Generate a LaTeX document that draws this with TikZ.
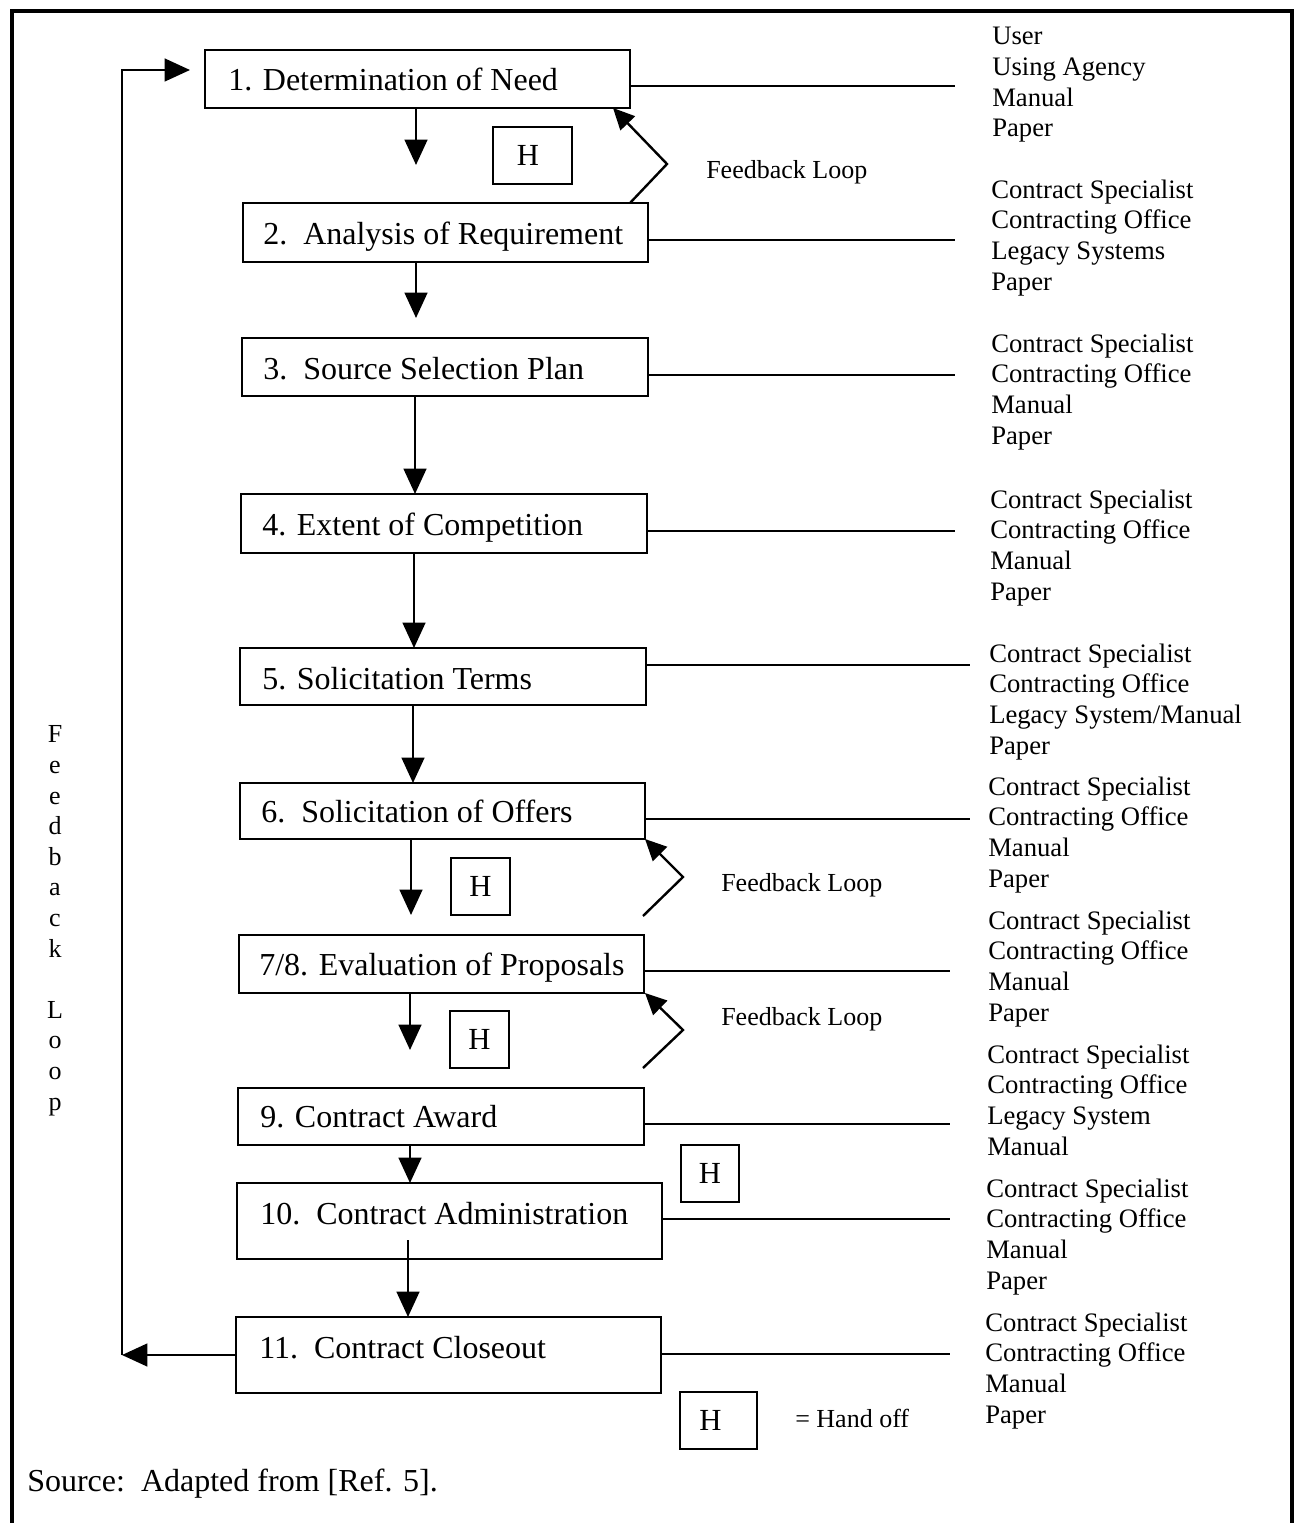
\documentclass[tikz,border=0pt]{standalone}
\usepackage{fontspec}
\setmainfont{Liberation Serif}
\usetikzlibrary{arrows.meta}
\newcommand{\pbox}[8]{%
  \node[boxstyle, minimum width={(#4-#2)*0.75pt}, minimum height={(#5-#3)*0.75pt}] (#1) at ({(#2+#4)/2},{(#3+#5)/2}) {};
  \node[boxtext] (#1t) at (#6,#7) {#8};}
\newcommand{\hoffbox}[6]{%
  \node[hstyle, minimum width={(#4-#2)*0.75pt}, minimum height={(#5-#3)*0.75pt}] (#1) at ({(#2+#4)/2},{(#3+#5)/2}) {#6};}
\begin{document}
\begin{tikzpicture}[x=0.75pt,y=-0.75pt,
  boxstyle/.style={draw, line width=2.1pt, inner sep=0pt, outer sep=0pt, rectangle},
  hstyle/.style={draw, line width=2pt, inner sep=0pt, outer sep=0pt, rectangle, font=\fontsize{23}{26}\selectfont},
  boxtext/.style={inner sep=0pt, anchor=base west, font=\fontsize{24}{28}\selectfont},
  side/.style={inner sep=0pt, anchor=base west, align=left, font=\fontsize{20}{23}\selectfont},
  fbtext/.style={inner sep=0pt, anchor=base west, font=\fontsize{19.5}{23}\selectfont},
  conn/.style={line width=1.8pt},
  arr/.style={line width=1.8pt, -{Triangle[length=19pt,width=17pt]}},
  farr/.style={line width=1.8pt, -{Triangle[length=16pt,width=15pt]}}]
\useasboundingbox (0,0) rectangle (1301,1523);
% frame
\draw[line width=3pt] (12,1523) -- (12,11) -- (1292,11) -- (1292,1523);

% process boxes
\pbox{b1}{205}{50}{630}{108}{228}{91}{1. Determination of Need}
\pbox{b2}{243}{203}{648}{262}{263}{244}{2.\ \ Analysis of Requirement}
\pbox{b3}{242}{338}{648}{396}{263}{379}{3.\ \ Source Selection Plan}
\pbox{b4}{241}{494}{647}{553}{262}{535}{4. Extent of Competition}
\pbox{b5}{240}{648}{646}{705}{262}{689}{5. Solicitation Terms}
\pbox{b6}{240}{783}{645}{839}{261}{822}{6.\ \ Solicitation of Offers}
\pbox{b7}{239}{935}{644}{993}{259}{975}{7/8. Evaluation of Proposals}
\pbox{b9}{238}{1088}{644}{1145}{260}{1127}{9. Contract Award}
\pbox{b10}{237}{1183}{662}{1259}{260}{1224}{10.\ \ Contract Administration}
\pbox{b11}{236}{1317}{661}{1393}{259}{1358}{11.\ \ Contract Closeout}

% hand-off boxes
\hoffbox{h1}{493}{127}{572}{184}{H\kern7pt\relax}
\hoffbox{h2}{451}{858}{510}{915}{H}
\hoffbox{h3}{450}{1011}{509}{1068}{H}
\hoffbox{h4}{681}{1145}{739}{1202}{H}
\hoffbox{h5}{680}{1392}{757}{1449}{H\kern12pt\relax}
\node[fbtext] (hand) at (795,1427) {= Hand off};

% vertical flow arrows
\coordinate (a1) at (416,165);
\draw[arr] (b1.south -| a1) -- (a1);
\coordinate (a2) at (416,318);
\draw[arr] (b2.south -| a2) -- (a2);
\coordinate (x3) at (415,0);
\draw[arr] (b3.south -| x3) -- (b4.north -| x3);
\coordinate (x4) at (414,0);
\draw[arr] (b4.south -| x4) -- (b5.north -| x4);
\coordinate (x5) at (413,0);
\draw[arr] (b5.south -| x5) -- (b6.north -| x5);
\coordinate (a6) at (411,915);
\draw[arr] (b6.south -| a6) -- (a6);
\coordinate (a7) at (410,1050);
\draw[arr] (b7.south -| a7) -- (a7);
\coordinate (x9) at (410,0);
\draw[arr] (b9.south -| x9) -- (b10.north -| x9);
\coordinate (s10) at (408,1240);
\draw[arr] (s10) -- (b11.north -| s10);

% small feedback loops
\coordinate (f1s) at (630,203);
\coordinate (f1v) at (667,164);
\coordinate (f1t) at (613,108);
\draw[farr] (f1s) -- (f1v) -- (f1t);
\node[fbtext] (fl1) at (706,179) {Feedback Loop};
\coordinate (f2s) at (643,916);
\coordinate (f2v) at (683,877);
\coordinate (f2t) at (645,839);
\draw[farr] (f2s) -- (f2v) -- (f2t);
\node[fbtext] (fl2) at (721,891) {Feedback Loop};
\coordinate (f3s) at (643,1068);
\coordinate (f3v) at (683,1030);
\coordinate (f3t) at (645,993);
\draw[farr] (f3s) -- (f3v) -- (f3t);
\node[fbtext] (fl3) at (721,1025) {Feedback Loop};

% big feedback loop
\coordinate (lb) at (122,1355);
\coordinate (lt) at (122,70);
\coordinate (ltip) at (190,70);
\draw[arr] (b11.west) -- (lb);
\draw[arr] (lb) -- (lt) -- (ltip);
\node[inner sep=0pt, anchor=base, align=center, font=\fontsize{19.5}{22.95}\selectfont] (vl) at (55,1110)
  {F\\e\\e\\d\\b\\a\\c\\k\\\mbox{}\\L\\o\\o\\p};

% resource lines
\coordinate (r1) at (955,86);
\coordinate (r2) at (955,240);
\coordinate (r3) at (955,375);
\coordinate (r4) at (955,531);
\coordinate (r5) at (970,665);
\coordinate (r6) at (970,819);
\coordinate (r7) at (950,971);
\coordinate (r9) at (950,1124);
\coordinate (r10) at (950,1219);
\coordinate (r11) at (950,1354);
\foreach \b/\r in {b1/r1,b2/r2,b3/r3,b4/r4,b5/r5,b6/r6,b7/r7,b9/r9,b10/r10,b11/r11}
  \draw[conn] (\b.east |- \r) -- (\r);

% resource texts (anchor = baseline of last line)
\node[side] (t1) at (992,137) {User\\Using Agency\\Manual\\Paper};
\node[side] (t2) at (991,290) {Contract Specialist\\Contracting Office\\Legacy Systems\\Paper};
\node[side] (t3) at (991,444) {Contract Specialist\\Contracting Office\\Manual\\Paper};
\node[side] (t4) at (990,600) {Contract Specialist\\Contracting Office\\Manual\\Paper};
\node[side] (t5) at (989,754) {Contract Specialist\\Contracting Office\\Legacy System/Manual\\Paper};
\node[side] (t6) at (988,887) {Contract Specialist\\Contracting Office\\Manual\\Paper};
\node[side] (t7) at (988,1021) {Contract Specialist\\Contracting Office\\Manual\\Paper};
\node[side] (t9) at (987,1155) {Contract Specialist\\Contracting Office\\Legacy System\\Manual};
\node[side] (t10) at (986,1289) {Contract Specialist\\Contracting Office\\Manual\\Paper};
\node[side] (t11) at (985,1423) {Contract Specialist\\Contracting Office\\Manual\\Paper};

\node[boxtext] (src) at (27,1491) {Source:\ \ Adapted from [Ref. 5].};
\end{tikzpicture}
\end{document}
